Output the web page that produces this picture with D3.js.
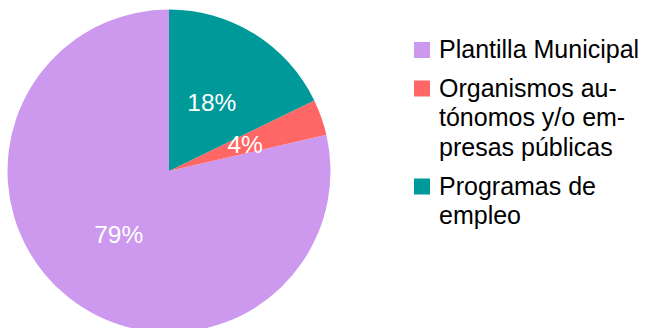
<!DOCTYPE html>
<html>
<head>
<meta charset="utf-8">
<script src="https://cdn.jsdelivr.net/npm/d3@7"></script>
<style>
  body { margin: 0; background: #fff; }
  svg { display: block; font-family: "Liberation Sans", Arial, sans-serif; }
</style>
</head>
<body>
<div id="chart-area"></div>
<script>
const SVG_WIDTH = 648;
const SVG_HEIGHT = 328;

// data, in legend order
const categories = ["Plantilla Municipal", "Organismos autónomos y/o empresas públicas", "Programas de empleo"];
const legendLines = [["Plantilla Municipal"], ["Organismos au-", "tónomos y/o em-", "presas públicas"], ["Programas de", "empleo"]];
const shares = [78.6, 3.6, 17.8];
const colors = ["#cc99ee", "#ff6666", "#009999"];

const cx = 169, cy = 171, radius = 161.5;

const svg = d3.select("#chart-area").append("svg").attr("width", SVG_WIDTH).attr("height", SVG_HEIGHT);
const group = svg.append("g").attr("transform", `translate(${cx},${cy})`);

const data = categories.map((c, i) => ({ name: c, value: shares[i], color: colors[i] }));
const total = d3.sum(shares);

// counter-clockwise from 12 o'clock
const pie = d3.pie().sort(null).value(d => d.value).startAngle(0).endAngle(-2 * Math.PI);
const arc = d3.arc().innerRadius(0).outerRadius(radius);
const labelArc = d3.arc().innerRadius(radius / 2).outerRadius(radius / 2);

const arcs = pie(data);

group.selectAll("path").data(arcs).enter().append("path").
    attr("d", arc).
    attr("fill", d => d.data.color);

group.selectAll("text.pct").data(arcs).enter().append("text").
    attr("class", "pct").
    attr("transform", d => `translate(${labelArc.centroid(d)})`).
    attr("text-anchor", "middle").
    attr("dy", "0.35em").
    attr("font-size", "24.5px").
    style("fill", "#ffffff").
    text(d => d3.format(".0%")(d.data.value / total));

// legend
const legend = svg.append("g").attr("transform", "translate(414,0)");
const entryTop = [58, 96.5, 194.5];
const lineGap = 29.5;

legend.selectAll("rect").data(data).enter().append("rect").
    attr("x", 0).
    attr("y", (d, i) => entryTop[i] - 16).
    attr("width", 16).
    attr("height", 16).
    attr("fill", d => d.color);

const items = legend.selectAll("text.leg").data(data).enter().append("text").
    attr("class", "leg").
    attr("x", 25).
    attr("y", (d, i) => entryTop[i]).
    attr("font-size", "25px").
    style("fill", "#000");

items.each(function(d, i) {
    const t = d3.select(this);
    legendLines[i].forEach((line, j) => {
        t.append("tspan").attr("x", 25).attr("y", entryTop[i] + j * lineGap).text(line);
    });
});
</script>
</body>
</html>
